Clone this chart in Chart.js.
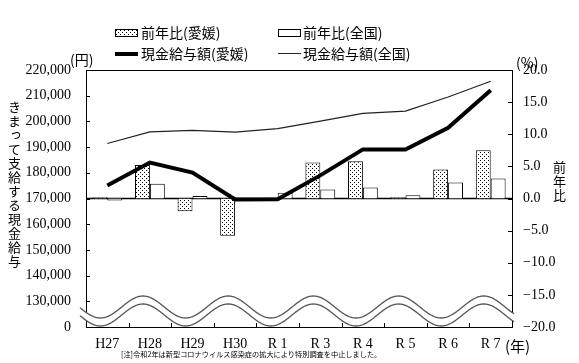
<html lang="ja">
<head>
    <meta charset="utf-8"/>
    <title>現金給与額と前年比</title>
    <script src="https://cdn.jsdelivr.net/npm/chart.js"></script>
    <style>
        body {
            margin: 0;
            background: #fff;
            font-family: 'Noto Sans CJK JP', sans-serif;
            color: #000;
        }
        #wrap { position: relative; width: 579px; height: 363px; }
        .t { position: absolute; white-space: nowrap; line-height: 1; }
        .lg { font-size: 14px; }
        .sw { position: absolute; }
        .vert { writing-mode: vertical-rl; font-size: 13px; line-height: 1; letter-spacing: 1px; }
    </style>
</head>
<body>
<div id="wrap">
    <canvas id="chart" width="579" height="363"></canvas>

    <!-- legend -->
    <div class="sw" id="swEhime" style="left:115px;top:29px;width:21px;height:6px;border:1px solid #000;"></div>
    <div class="t lg" style="left:141px;top:25px;">前年比(愛媛)</div>
    <div class="sw" style="left:278px;top:29px;width:21px;height:6px;border:1px solid #000;background:#fff;"></div>
    <div class="t lg" style="left:303px;top:25px;">前年比(全国)</div>
    <div class="sw" style="left:115px;top:52px;width:23px;height:4px;background:#000;"></div>
    <div class="t lg" style="left:141px;top:46px;">現金給与額(愛媛)</div>
    <div class="sw" style="left:278px;top:53px;width:23px;height:1px;background:#222;"></div>
    <div class="t lg" style="left:303px;top:46px;">現金給与額(全国)</div>

    <!-- units and axis titles -->
    <div class="t" style="left:70px;top:52px;font-size:14px;">(円)</div>
    <div class="t" style="left:516px;top:55px;font-size:14px;">(%)</div>
    <div class="t" style="left:505px;top:338px;font-size:15px;">(年)</div>
    <div class="t vert" style="left:8px;top:101px;">きまって支給する現金給与</div>
    <div class="t vert" style="left:553px;top:161px;">前年比</div>
    <div class="t" style="left:121px;top:351px;font-size:7.2px;">[注]令和2年は新型コロナウイルス感染症の拡大により特別調査を中止しました。</div>
</div>

<script>
    // categories
    const years = ['H27', 'H28', 'H29', 'H30', 'R 1', 'R 3', 'R 4', 'R 5', 'R 6', 'R 7'];
    // year-on-year change (%)
    const rateEhime = [0.2, 5.2, -2.0, -5.8, 0.1, 5.6, 5.8, 0.2, 4.5, 7.5];
    const rateZenkoku = [-0.3, 2.3, 0.4, -0.2, 0.9, 1.4, 1.7, 0.5, 2.5, 3.1];
    // regular cash earnings (yen)
    const payEhime = [175100, 184000, 180100, 169600, 169700, 179000, 189100, 189100, 197500, 212100];
    const payZenkoku = [191400, 195900, 196500, 195800, 197200, 200100, 203100, 204000, 209500, 215600];

    // dotted fill for the Ehime bars
    function dotPattern() {
        const c = document.createElement('canvas');
        c.width = 4; c.height = 4;
        const g = c.getContext('2d');
        g.fillStyle = '#fff';
        g.fillRect(0, 0, 4, 4);
        g.fillStyle = '#000';
        g.fillRect(0, 0, 1, 1);
        g.fillRect(2, 2, 1, 1);
        return c;
    }
    const dots = dotPattern();
    document.getElementById('swEhime').style.background = 'url(' + dots.toDataURL() + ')';

    const ctx = document.getElementById('chart').getContext('2d');
    const pattern = ctx.createPattern(dots, 'repeat');

    Chart.defaults.font.family = "'Liberation Serif', serif";
    Chart.defaults.font.size = 14;
    Chart.defaults.color = '#000';

    const fmtMinus = s => s.replace('-', '\u2212');

    // frame, inward ticks, zero line and the axis break waves
    const decor = {
        id: 'decor',
        beforeDatasetsDraw(chart) {
            const c = chart.ctx, a = chart.chartArea;
            const y0 = chart.scales.y1.getPixelForValue(0);
            c.save();
            c.strokeStyle = '#000';
            c.lineWidth = 1.5;
            c.beginPath();
            c.moveTo(a.left, y0);
            c.lineTo(a.right, y0);
            c.stroke();
            c.restore();
        },
        afterDraw(chart) {
            const c = chart.ctx, a = chart.chartArea;
            const sy = chart.scales.y, sy1 = chart.scales.y1, sx = chart.scales.x;
            c.save();
            c.strokeStyle = '#000';
            c.lineWidth = 1;
            c.strokeRect(a.left + 0.5, a.top + 0.5, a.right - a.left, a.bottom - a.top);
            c.beginPath();
            sy.ticks.forEach(t => {
                const p = Math.round(sy.getPixelForValue(t.value)) + 0.5;
                c.moveTo(a.left, p); c.lineTo(a.left + 4, p);
            });
            sy1.ticks.forEach(t => {
                const p = Math.round(sy1.getPixelForValue(t.value)) + 0.5;
                c.moveTo(a.right - 4, p); c.lineTo(a.right, p);
            });
            for (let i = 1; i < years.length; i++) {
                const p = Math.round((sx.getPixelForValue(i - 1) + sx.getPixelForValue(i)) / 2) + 0.5;
                c.moveTo(p, a.bottom); c.lineTo(p, a.bottom - 4);
            }
            c.stroke();

            // break symbol: two waves with white between them
            const x0 = a.left - 6, x1 = a.right + 2;
            const period = 2 * (a.right - a.left) / years.length;
            const crest = a.left + 57;
            const amp = 11;
            const upMid = a.bottom - 20, loMid = a.bottom - 12;
            const wave = (x, mid) => mid - amp * Math.cos(2 * Math.PI * (x - crest) / period);
            c.beginPath();
            for (let x = x0; x <= x1; x += 0.5) c.lineTo(x, wave(x, upMid));
            for (let x = x1; x >= x0; x -= 0.5) c.lineTo(x, wave(x, loMid));
            c.closePath();
            c.fillStyle = '#fff';
            c.fill();
            c.strokeStyle = '#555';
            c.lineWidth = 1.3;
            [upMid, loMid].forEach(m => {
                c.beginPath();
                for (let x = x0; x <= x1; x += 0.5) c.lineTo(x, wave(x, m));
                c.stroke();
            });
            c.restore();
        }
    };

    new Chart(ctx, {
        data: {
            labels: years,
            datasets: [
                {
                    type: 'line', label: '現金給与額(愛媛)', data: payEhime, yAxisID: 'y',
                    borderColor: '#000', borderWidth: 4, pointRadius: 0, tension: 0, order: 0
                },
                {
                    type: 'line', label: '現金給与額(全国)', data: payZenkoku, yAxisID: 'y',
                    borderColor: '#222', borderWidth: 1.2, pointRadius: 0, tension: 0, order: 0
                },
                {
                    type: 'bar', label: '前年比(愛媛)', data: rateEhime, yAxisID: 'y1',
                    backgroundColor: pattern, borderColor: '#000', borderWidth: 1,
                    categoryPercentage: 0.7, barPercentage: 1.0, order: 1
                },
                {
                    type: 'bar', label: '前年比(全国)', data: rateZenkoku, yAxisID: 'y1',
                    backgroundColor: '#fff', borderColor: '#000', borderWidth: 1,
                    categoryPercentage: 0.7, barPercentage: 1.0, order: 1
                }
            ]
        },
        options: {
            responsive: false,
            animation: false,
            layout: { padding: { top: 70 } },
            plugins: { legend: { display: false }, tooltip: { enabled: false } },
            scales: {
                x: {
                    grid: { display: false, drawTicks: false },
                    border: { color: '#000', width: 1 },
                    ticks: { padding: 9, maxRotation: 0 },
                    afterFit(s) { s.height = 36; }
                },
                y: {
                    position: 'left',
                    min: 120000, max: 220000,
                    grid: { display: false, drawTicks: false },
                    border: { color: '#000', width: 1 },
                    ticks: {
                        stepSize: 10000, padding: 15,
                        callback: v => v === 120000 ? '0' : v.toLocaleString('en-US')
                    },
                    afterFit(s) { s.width = 86; }
                },
                y1: {
                    position: 'right',
                    min: -20, max: 20,
                    grid: { display: false, drawTicks: false },
                    border: { color: '#000', width: 1 },
                    ticks: { stepSize: 5, padding: 11, callback: v => fmtMinus(v.toFixed(1)) },
                    afterFit(s) { s.width = 67; }
                }
            }
        },
        plugins: [decor]
    });
</script>
</body>
</html>
